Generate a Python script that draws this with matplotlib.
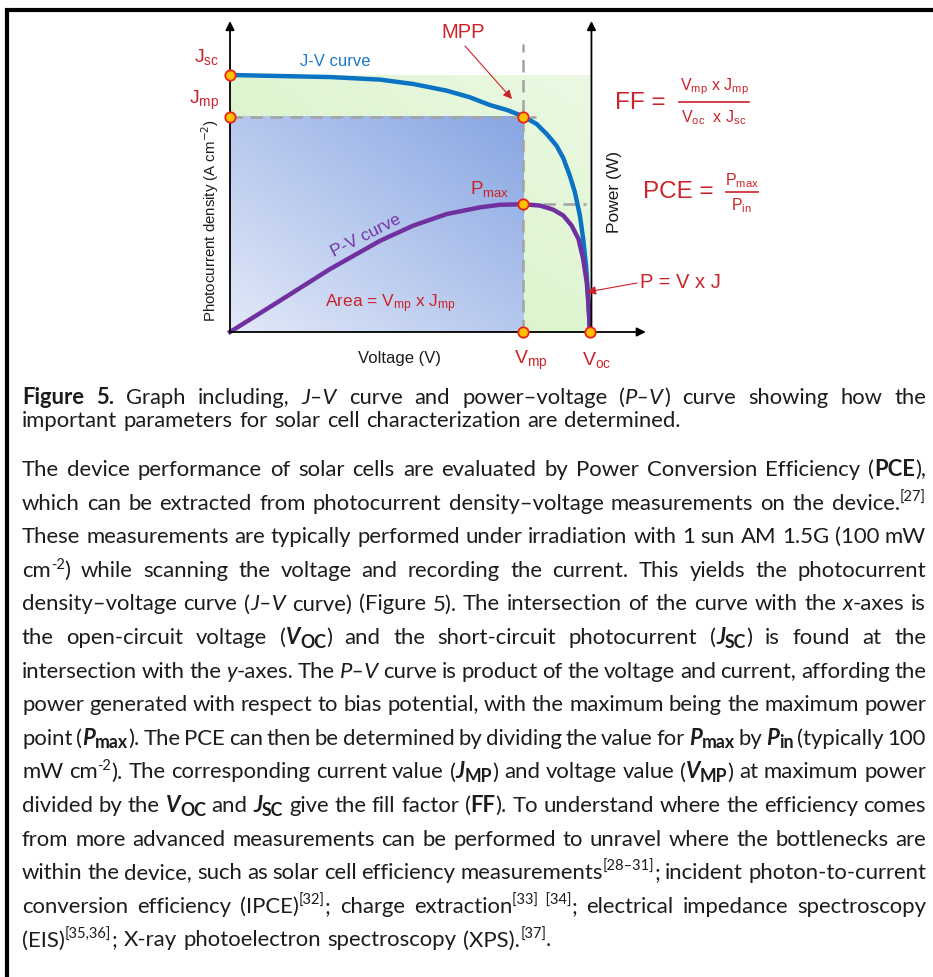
import re
import numpy as np
import matplotlib
matplotlib.use('Agg')
import matplotlib.pyplot as plt
from matplotlib.colors import LinearSegmentedColormap

# J-V curve and P-V curve (V/Voc, J/Jsc, P on the same scale)
V_JV = [0.0, 0.139, 0.278, 0.417, 0.509, 0.602, 0.667, 0.722, 0.769, 0.815,
        0.852, 0.880, 0.907, 0.926, 0.944, 0.958, 0.972, 0.981, 0.989, 0.994, 1.0]
J_JV = [1.0, 0.996, 0.992, 0.982, 0.965, 0.939, 0.913, 0.883, 0.864, 0.839,
        0.809, 0.770, 0.725, 0.676, 0.608, 0.544, 0.453, 0.362, 0.258, 0.154, 0.0]
V_PV = [0.0, 0.139, 0.278, 0.417, 0.509, 0.602, 0.694, 0.75, 0.815, 0.861,
        0.898, 0.926, 0.949, 0.968, 0.981, 0.991, 0.996, 1.0]
P_PV = [0.0, 0.122, 0.245, 0.355, 0.414, 0.459, 0.485, 0.495, 0.497, 0.492,
        0.476, 0.453, 0.414, 0.362, 0.284, 0.193, 0.102, 0.0]

V_OC, V_MP = 1.0, 0.814
J_SC, J_MP = 1.0, 0.837
P_MAX = 0.498

# caption and paragraph, one entry per printed line
# {b:..} bold, {i:..} italic, {bi:..} bold italic, {sup:..} superscript, {bsub:..} bold subscript
CAPTION = [
    "{b:Figure 5.} Graph including, {i:J–V} curve and power–voltage ({i:P–V}) curve showing how the",
    "important parameters for solar cell characterization are determined.",
]
BODY = [
    "The device performance of solar cells are evaluated by Power Conversion Efficiency ({b:PCE}),",
    "which can be extracted from photocurrent density–voltage measurements on the device.{sup:[27]}",
    "These measurements are typically performed under irradiation with 1 sun AM 1.5G (100 mW",
    "cm{sup:-2}) while scanning the voltage and recording the current. This yields the photocurrent",
    "density–voltage curve ({i:J–V} curve) (Figure 5). The intersection of the curve with the {i:x}-axes is",
    "the open-circuit voltage ({bi:V}{bsub:OC}) and the short-circuit photocurrent ({bi:J}{bsub:SC}) is found at the",
    "intersection with the {i:y}-axes. The {i:P–V} curve is product of the voltage and current, affording the",
    "power generated with respect to bias potential, with the maximum being the maximum power",
    "point ({bi:P}{bsub:max}). The PCE can then be determined by dividing the value for {bi:P}{bsub:max} by {bi:P}{bsub:in} (typically 100",
    "mW cm{sup:-2}). The corresponding current value ({bi:J}{bsub:MP}) and voltage value ({bi:V}{bsub:MP}) at maximum power",
    "divided by the {bi:V}{bsub:OC} and {bi:J}{bsub:SC} give the fill factor ({b:FF}). To understand where the efficiency comes",
    "from more advanced measurements can be performed to unravel where the bottlenecks are",
    "within the device, such as solar cell efficiency measurements{sup:[28–31]}; incident photon-to-current",
    "conversion efficiency (IPCE){sup:[32]}; charge extraction{sup:[33]\u00a0\u00a0[34]}; electrical impedance spectroscopy",
    "(EIS){sup:[35,36]}; X-ray photoelectron spectroscopy (XPS).{sup:[37]}.",
]

W, H = 933, 978
RED = '#cc2229'
INK = '#1c1c1c'
CHART_FONT = 'Liberation Sans'
TEXT_FONT = 'Lato'

fig = plt.figure(figsize=(W / 100, H / 100), dpi=100)


def px_axes(x0, y0, x1, y1):
    return fig.add_axes([x0 / W, 1 - y1 / H, (x1 - x0) / W, (y1 - y0) / H])


# chart: origin at pixel (230, 333), Voc at x=590, Jsc at y=76
ax = px_axes(200, 15, 660, 345)
sx, sy = 360.0, 257.0

green = LinearSegmentedColormap.from_list('g', ['#d2f1c0', '#ebf9e3'])
blue = LinearSegmentedColormap.from_list('b', ['#e2e9f8', '#88a6e3'])
grad = np.add.outer(np.linspace(0, 1, 64), np.linspace(0, 1, 64)) / 2
ax.imshow(grad, extent=(0, V_OC, 0, J_SC), origin='lower', cmap=green,
          aspect='auto', interpolation='bicubic', zorder=1)
ax.imshow(grad, extent=(0, V_MP, 0, J_MP), origin='lower', cmap=blue,
          aspect='auto', interpolation='bicubic', zorder=2)

dash = dict(color='#a3a3a3', lw=1.8, ls=(0, (5, 3)), zorder=4)
ax.plot([0, 0.85], [J_MP, J_MP], **dash)
ax.plot([V_MP, V_MP], [0, 1.12], **dash)
ax.plot([V_MP, 0.99], [P_MAX, P_MAX], **dash)

ax.plot(V_JV, J_JV, color='#0a73c4', lw=3.2, zorder=5, solid_joinstyle='round')
ax.plot(V_PV, P_PV, color='#7030a0', lw=3.2, zorder=6, solid_joinstyle='round')

arr = dict(arrowstyle='-|>', color='black', lw=1.3, shrinkA=0, shrinkB=0, mutation_scale=13)
ax.annotate('', xy=(0, 1.21), xytext=(0, 0), arrowprops=arr, zorder=7)
ax.annotate('', xy=(1.155, 0), xytext=(0, 0), arrowprops=arr, zorder=7)
ax.annotate('', xy=(1.004, 1.21), xytext=(1.004, 0), arrowprops=arr, zorder=7)

ax.plot([0, 0, V_MP, V_MP, V_MP, V_OC], [J_SC, J_MP, J_MP, P_MAX, 0, 0], 'o',
        ms=7.5, mfc='#ffc000', mec='#e8231c', mew=1.3, zorder=10, clip_on=False)

ax.set_xlim((200 - 230) / sx, (660 - 230) / sx)
ax.set_ylim((333 - 345) / sy, (333 - 15) / sy)
ax.axis('off')

# overlay in pixel coordinates for labels, border and text
ov = fig.add_axes([0, 0, 1, 1])
ov.set_xlim(0, W)
ov.set_ylim(H, 0)
ov.axis('off')

ov.plot([5, W], [11, 11], color='black', lw=3.0, solid_capstyle='butt')
ov.plot([7, 7], [9, H], color='black', lw=3.0, solid_capstyle='butt')


def sub(a, b):
    return a + r'$\mathregular{_{' + b + '}}$'


def lab(x, y, s, size, color=RED, ha='center', **kw):
    ov.text(x, y, s, fontsize=size, color=color, ha=ha, va='center',
            family=CHART_FONT, **kw)


lab(463, 33, 'MPP', 14.5)
lab(219, 57, sub('J', 'sc'), 14, ha='right')
lab(219, 100, sub('J', 'mp'), 14, ha='right')
lab(531, 360, sub('V', 'mp'), 14)
lab(597, 360, sub('V', 'oc'), 14)
lab(490, 189, sub('P', 'max'), 13.5)
lab(391, 304, 'Area = ' + sub('V', 'mp') + ' x ' + sub('J', 'mp'), 12.5)
lab(335, 61, 'J-V curve', 12, color='#1a78c8')
lab(366, 236, 'P-V curve', 12.5, color='#7535a8', rotation=27, rotation_mode='anchor')
lab(400, 358, 'Voltage (V)', 12, color=INK)
lab(210, 220, 'Photocurrent density (A cm$^{-2}$)', 10.8, color=INK, rotation=90)
lab(614, 192, 'Power (W)', 12.5, color=INK, rotation=90)
lab(640, 283, 'P = V x J', 14.5, ha='left')

lab(615, 103, 'FF =', 17.5, ha='left')
lab(714, 87, sub('V', 'mp') + ' x ' + sub('J', 'mp'), 11.5)
ov.plot([679, 749], [103, 103], color=RED, lw=1.2)
lab(714, 118, sub('V', 'oc') + '  x ' + sub('J', 'sc'), 11.5)

lab(643, 192, 'PCE =', 17.5, ha='left')
lab(742, 181, sub('P', 'max'), 11.5)
ov.plot([726, 758], [193, 193], color=RED, lw=1.2)
lab(741, 206, sub('P', 'in'), 11.5)

ov.annotate('', xy=(512, 100), xytext=(465, 47),
            arrowprops=dict(arrowstyle='-|>', color=RED, lw=0.8, shrinkA=0, shrinkB=0,
                            mutation_scale=13))
ov.annotate('', xy=(587, 293), xytext=(637, 284),
            arrowprops=dict(arrowstyle='-|>', color=RED, lw=0.8, shrinkA=0, shrinkB=0,
                            mutation_scale=13))

# justified text block
STYLES = {
    'n': dict(),
    'i': dict(style='italic'),
    'b': dict(weight='bold'),
    'bi': dict(weight='bold', style='italic'),
    'sup': dict(scale=0.66, rise=-0.36),
    'bsub': dict(weight='bold', scale=0.8, rise=0.16),
}
X0, X1 = 22, 926
renderer = fig.canvas.get_renderer()


def words_of(line):
    runs = []
    for p in re.split(r'(\{\w+:[^}]*\})', line):
        if not p:
            continue
        m = re.match(r'\{(\w+):([^}]*)\}', p)
        runs.append((m.group(1), m.group(2)) if m else ('n', p))
    words, cur = [], []
    for style, txt in runs:
        for k, piece in enumerate(txt.split(' ')):
            if k > 0 and cur:
                words.append(cur)
                cur = []
            if piece:
                cur.append((style, piece))
    if cur:
        words.append(cur)
    return words


def build(line, size):
    em = size * 100 / 72
    out = []
    for word in words_of(line):
        pieces = []
        for style, txt in word:
            st = STYLES[style]
            t = ov.text(0, 0, txt, fontsize=size * st.get('scale', 1),
                        fontweight=st.get('weight', 'normal'), fontstyle=st.get('style', 'normal'),
                        family=TEXT_FONT, color=INK, ha='left', va='baseline')
            w = t.get_window_extent(renderer).width
            pieces.append((t, w, st.get('rise', 0) * em))
        out.append(pieces)
    return out, em


def natural_width(line, size):
    words, em = build(line, size)
    total = sum(w for p in words for _, w, _ in p) + 0.3 * em * (len(words) - 1)
    for p in words:
        for t, _, _ in p:
            t.remove()
    return total


def place(line, y, size, justify):
    words, em = build(line, size)
    widths = [sum(w for _, w, _ in p) for p in words]
    gap = 0.3 * em
    if justify and len(words) > 1:
        gap = (X1 - X0 - sum(widths)) / (len(words) - 1)
    x = X0
    for pieces, wsum in zip(words, widths):
        for t, w, rise in pieces:
            t.set_position((x, y + rise))
            x += w
        x += gap


cap_size = 15.0 * 659 / natural_width(CAPTION[1], 15.0)
body_size = 15.0 * 900 / natural_width(BODY[1], 15.0)

for k, line in enumerate(CAPTION):
    place(line, 404 + 22.7 * k, cap_size, k < len(CAPTION) - 1)
for k, line in enumerate(BODY):
    place(line, 476 + 33.6 * k, body_size, k < len(BODY) - 1)

fig.savefig('out.png', dpi=100, facecolor='white')
